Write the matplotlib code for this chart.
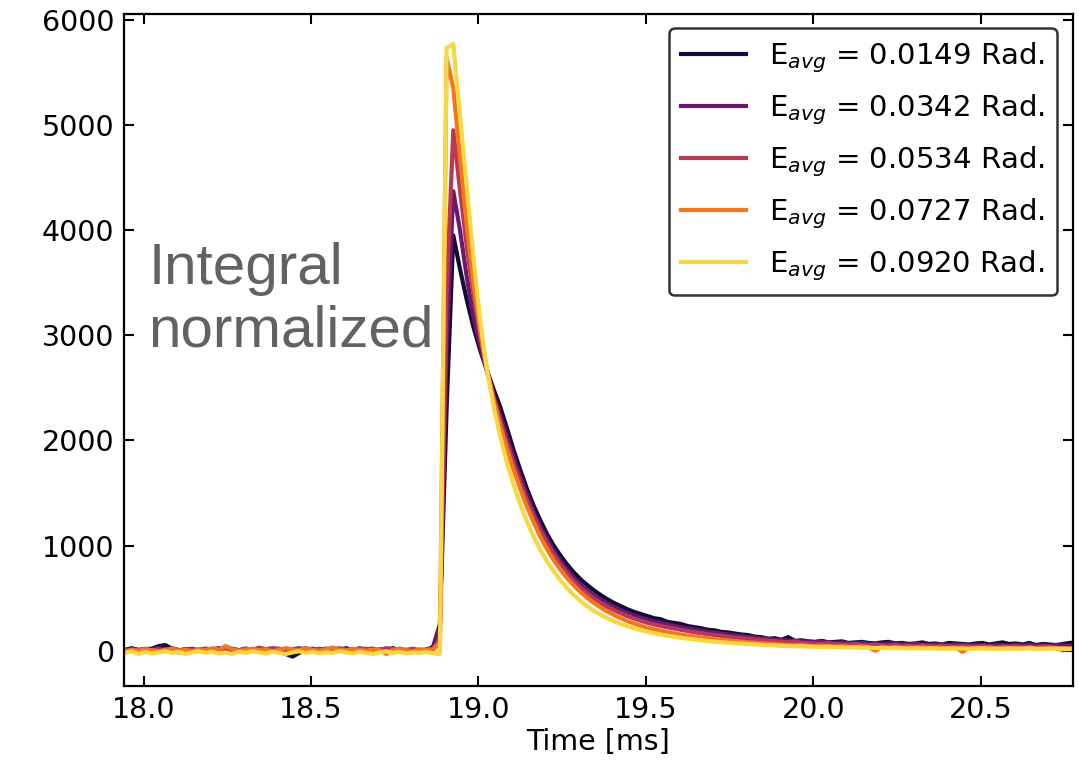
import numpy as np
import matplotlib
matplotlib.use("Agg")
import matplotlib.pyplot as plt

# time axis, 0.02 ms sampling
t = np.round(np.arange(17.945, 20.79, 0.02), 3)

labels = ["E$_{avg}$ = 0.0149 Rad.", "E$_{avg}$ = 0.0342 Rad.", "E$_{avg}$ = 0.0534 Rad.",
          "E$_{avg}$ = 0.0727 Rad.", "E$_{avg}$ = 0.0920 Rad."]

# baseline before the pulse (17.945 .. 18.865)
base_1 = [10, 25, 5, 15, 20, 45, 55, 20, 5, 15,
          0, 10, 20, 5, -10, 10, 20, 5, 15, 10,
          0, 15, 10, -5, -30, -55, -20, 10, 20, 5,
          15, 0, 10, 25, 5, -5, 15, 20, 0, 10,
          25, 5, 0, 15, -15, 5, 40]
base_2 = [5, 20, 10, -5, 10, 25, 15, 0, -15, 10,
          20, 5, -10, 15, 25, 10, 0, 5, 20, 10,
          -5, 15, 20, 10, 0, 15, 25, 5, -10, 10,
          20, 10, 0, 15, 5, 25, 10, -5, 15, 10,
          0, 20, 5, 10, -10, 15, 30]
base_3 = [15, 0, 10, 20, 5, 15, 0, 25, 10, -5,
          15, 5, 20, 0, 10, 25, 15, 5, 20, 10,
          30, 15, 25, 20, 10, 5, 15, 25, 10, 20,
          5, 15, 25, 10, 0, 15, 20, 5, 10, 25,
          15, 0, 10, 20, 5, 10, 20]
base_4 = [-10, 10, 0, 15, 5, -5, 10, 20, 0, 10,
          -5, 15, 5, 25, 10, 45, 15, 0, 10, 20,
          5, 15, -5, 10, 25, 15, 5, 20, 10, 0,
          15, 30, 10, 5, 20, 10, 0, 15, 5, -30,
          10, 20, 5, -5, 15, 10, 10]
base_5 = [-20, -5, -30, -10, -25, -15, -5, -20, -10, -30,
          -15, -5, -20, -10, -25, -15, -30, -10, -20, -5,
          -15, -25, -10, -20, -30, -15, -5, -20, -10, -25,
          -15, -20, -5, -15, -25, -10, -20, -30, -15, -5,
          -20, -10, -25, -15, -20, -10, -25]

# pulse and decay (18.885 .. 19.485)
peak_1 = [250, 2300, 3950, 3630, 3340, 3080, 2860, 2670, 2490, 2320,
          2120, 1910, 1720, 1540, 1380, 1240, 1110, 1000, 905, 820,
          745, 680, 625, 575, 530, 490, 455, 425, 395, 370, 350]
peak_2 = [230, 2900, 4370, 4000, 3560, 3180, 2900, 2670, 2440, 2240,
          2040, 1840, 1650, 1480, 1320, 1180, 1060, 950, 855, 770,
          695, 630, 575, 528, 485, 448, 415, 385, 358, 335, 314]
peak_3 = [120, 3400, 4950, 4380, 3850, 3400, 3000, 2670, 2410, 2190,
          1980, 1780, 1600, 1430, 1280, 1145, 1025, 915, 820, 735,
          660, 598, 545, 498, 456, 418, 386, 357, 330, 306, 285]
peak_4 = [80, 5640, 5350, 4700, 4050, 3500, 3050, 2680, 2390, 2140,
          1920, 1720, 1540, 1370, 1220, 1085, 965, 860, 770, 690,
          620, 558, 503, 455, 412, 374, 340, 310, 283, 259, 238]
peak_5 = [-30, 5730, 5770, 5100, 4420, 3750, 3150, 2680, 2330, 2040,
          1790, 1580, 1390, 1230, 1085, 960, 850, 755, 670, 595,
          530, 473, 423, 380, 343, 310, 281, 256, 234, 214, 196]

# tail (19.505 .. 20.785)
tail_1 = [330, 310, 300, 275, 265, 255, 235, 225, 215, 200,
          195, 180, 175, 165, 155, 150, 135, 130, 115, 120,
          105, 130, 95, 100, 90, 85, 95, 80, 85, 90,
          75, 80, 85, 75, 70, 80, 85, 70, 75, 65,
          70, 80, 65, 70, 60, 75, 70, 65, 60, 70,
          75, 60, 70, 80, 65, 70, 60, 75, 55, 65,
          60, 55, 65, 75, 80]
tail_2 = [295, 278, 264, 250, 237, 224, 213, 201, 191, 181,
          172, 162, 155, 146, 140, 132, 125, 118, 114, 106,
          102, 98, 92, 95, 86, 82, 88, 78, 75, 80,
          72, 70, 76, 66, 68, 62, 70, 60, 64, 58,
          66, 60, 55, 62, 58, 52, 60, 56, 50, 58,
          54, 48, 56, 52, 46, 55, 50, 58, 48, 52,
          45, 55, 50, 48, 56]
tail_3 = [266, 250, 236, 223, 211, 199, 188, 176, 168, 158,
          150, 142, 135, 127, 120, 114, 108, 102, 96, 92,
          86, 82, 88, 76, 72, 70, 66, 72, 62, 60,
          58, 64, 54, 52, 58, 50, 48, 55, 46, 50,
          44, 52, 46, 40, 48, 44, 38, 46, 42, 36,
          44, 40, 30, 42, 38, 44, 36, 40, 28, 42,
          38, 30, 5, 25, 40]
tail_4 = [220, 204, 190, 177, 165, 154, 144, 135, 126, 118,
          110, 104, 97, 91, 86, 80, 76, 72, 67, 63,
          60, 56, 52, 58, 48, 45, 50, 42, 40, 44,
          38, 36, 42, 34, 0, 38, 30, 35, 28, 32,
          30, 34, 26, 30, 28, 24, 32, -10, 28, 30,
          28, 32, 24, 30, 26, 28, 22, 30, 26, 24,
          28, 22, 26, 24, 28]
tail_5 = [180, 166, 154, 143, 133, 123, 115, 107, 100, 93,
          87, 81, 76, 72, 67, 63, 60, 56, 53, 50,
          48, 45, 42, 44, 40, 38, 36, 40, 34, 32,
          30, 33, 28, 30, 26, 28, 24, 27, 25, 22,
          26, 20, 24, 22, 18, 22, 20, 24, 18, 20,
          22, 18, 20, 16, 22, 18, 20, 24, 16, 18,
          20, 22, 18, 16, 20]

series = [base_1 + peak_1 + tail_1, base_2 + peak_2 + tail_2, base_3 + peak_3 + tail_3,
          base_4 + peak_4 + tail_4, base_5 + peak_5 + tail_5]
colors = plt.cm.inferno(np.linspace(0.1, 0.9, 5))

fig = plt.figure(figsize=(10.79, 7.68), dpi=100)
ax = fig.add_axes([0.115, 0.107, 0.879, 0.875])

for y, c, lab in zip(series, colors, labels):
    ax.plot(t, y, color=c, lw=3.0, label=lab)

ax.set_xlim(17.942, 20.774)
ax.set_ylim(-333, 6057)
ax.set_xticks([18.0, 18.5, 19.0, 19.5, 20.0, 20.5])
ax.set_yticks([0, 1000, 2000, 3000, 4000, 5000, 6000])
ax.tick_params(direction="in", top=True, right=True, length=7.5, width=1.5,
               labelsize=20.5, pad=7)
for s in ax.spines.values():
    s.set_linewidth(1.6)
ax.set_xlabel("Time [ms]", fontsize=20.5, labelpad=3)

ax.text(18.015, 3330, "Integral\nnormalized", fontsize=42, color="#626262",
        family="Liberation Sans", va="center", ha="left", linespacing=1.2)

leg = ax.legend(loc="upper right", bbox_to_anchor=(0.9835, 0.979), borderaxespad=0,
                fontsize=21, handlelength=2.2, handletextpad=0.8, labelspacing=0.6,
                borderpad=0.42, frameon=True, fancybox=True,
                edgecolor="#333333", framealpha=1)
leg.get_frame().set_linewidth(1.8)

fig.savefig("out.png", dpi=100)
